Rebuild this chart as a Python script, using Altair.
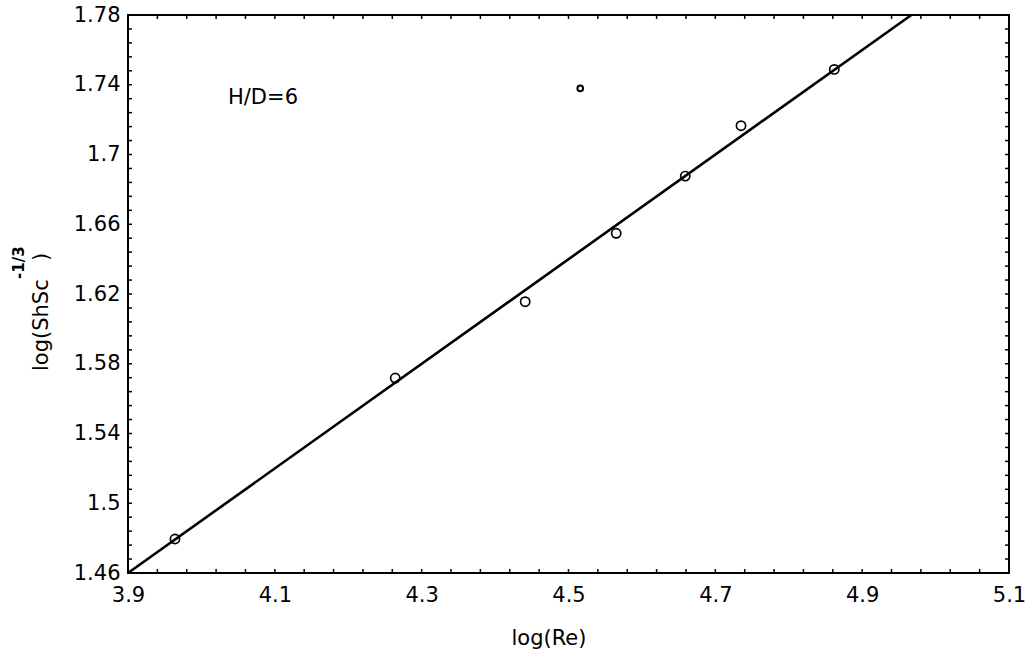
import altair as alt
import pandas as pd

# Measured points: log(Re) vs log(Sh·Sc^-1/3), H/D = 6
log_re = [3.964, 4.264, 4.441, 4.565, 4.659, 4.735, 4.862]
log_sh = [1.4795, 1.5718, 1.6156, 1.6548, 1.6876, 1.7165, 1.7488]

# Stray point drawn with a smaller marker
stray_re = [4.516]
stray_sh = [1.7379]

# End points of the fitted straight line
fit_re = [3.9, 4.967]
fit_sh = [1.46, 1.78]

# Axis labels and minor tick positions
x_labels = [3.9, 4.1, 4.3, 4.5, 4.7, 4.9, 5.1]
y_labels = [1.46, 1.5, 1.54, 1.58, 1.62, 1.66, 1.7, 1.74, 1.78]
x_ticks = [round(3.9 + 0.04 * i, 2) for i in range(31)]
y_ticks = [round(1.46 + 0.008 * i, 3) for i in range(41)]

W, H = 881, 558
FONT = "DejaVu Sans"

xs = alt.Scale(domain=[3.9, 5.1], nice=False, zero=False)
ys = alt.Scale(domain=[1.46, 1.78], nice=False, zero=False)

x_axis = alt.Axis(values=x_labels, format="~g", ticks=False, domain=False, grid=False,
                  labelFontSize=21, labelFont=FONT, labelColor="black", labelPadding=11,
                  labelFlush=False, title=None)
y_axis = alt.Axis(values=y_labels, format="~g", ticks=False, domain=False, grid=False,
                  labelFontSize=21, labelFont=FONT, labelColor="black", labelPadding=8,
                  labelFlush=False, title=None)

pts = pd.DataFrame({"re": log_re, "sh": log_sh})
stray = pd.DataFrame({"re": stray_re, "sh": stray_sh})
fit = pd.DataFrame({"re": fit_re, "sh": fit_sh})

line = alt.Chart(fit).mark_line(color="black", strokeWidth=2.6).encode(
    x=alt.X("re:Q", scale=xs, axis=x_axis),
    y=alt.Y("sh:Q", scale=ys, axis=y_axis),
)

circles = alt.Chart(pts).mark_point(shape="circle", filled=False, color="black",
                                    size=85, strokeWidth=1.7, opacity=1).encode(
    x=alt.X("re:Q", scale=xs), y=alt.Y("sh:Q", scale=ys))

stray_pt = alt.Chart(stray).mark_point(shape="circle", filled=False, color="black",
                                       size=32, strokeWidth=2, opacity=1).encode(
    x=alt.X("re:Q", scale=xs), y=alt.Y("sh:Q", scale=ys))

# Inward ticks on all four sides of the frame
xt = pd.DataFrame({"v": x_ticks})
yt = pd.DataFrame({"v": y_ticks})
tick_len = 4
bottom_ticks = alt.Chart(xt).mark_rule(color="black", strokeWidth=1.5).encode(
    x=alt.X("v:Q", scale=xs), y=alt.value(H), y2=alt.value(H - tick_len))
top_ticks = alt.Chart(xt).mark_rule(color="black", strokeWidth=1.5).encode(
    x=alt.X("v:Q", scale=xs), y=alt.value(0), y2=alt.value(tick_len))
left_ticks = alt.Chart(yt).mark_rule(color="black", strokeWidth=1.5).encode(
    y=alt.Y("v:Q", scale=ys), x=alt.value(0), x2=alt.value(tick_len))
right_ticks = alt.Chart(yt).mark_rule(color="black", strokeWidth=1.5).encode(
    y=alt.Y("v:Q", scale=ys), x=alt.value(W), x2=alt.value(W - tick_len))

def label(text, x, y, size=21, angle=0, align="left", baseline="middle", weight="normal"):
    return alt.Chart(pd.DataFrame({"t": [text]})).mark_text(
        font=FONT, fontSize=size, color="black", angle=angle, align=align,
        baseline=baseline, fontWeight=weight).encode(
        text="t:N", x=alt.value(x), y=alt.value(y))

annot = label("H/D=6", 100, 83)
x_title = label("log(Re)", 421, 624, align="center")
y_title_main = label("log(ShSc", -80, 356, angle=270, baseline="alphabetic")
y_title_close = label(")", -80, 246, angle=270, baseline="alphabetic")
y_title_sup = label("-1/3", -104, 264, size=15, angle=270, baseline="alphabetic", weight="bold")

chart = alt.layer(
    bottom_ticks, top_ticks, left_ticks, right_ticks,
    line, circles, stray_pt,
    annot, x_title, y_title_main, y_title_close, y_title_sup,
).properties(
    width=W, height=H,
    autosize=alt.AutoSizeParams(type="none"),
    padding={"left": 128, "top": 15, "right": 23, "bottom": 89},
    background="white",
).configure_view(stroke="black", strokeWidth=2)

chart.save("out.html", embed_options={"renderer": "svg", "actions": False})
